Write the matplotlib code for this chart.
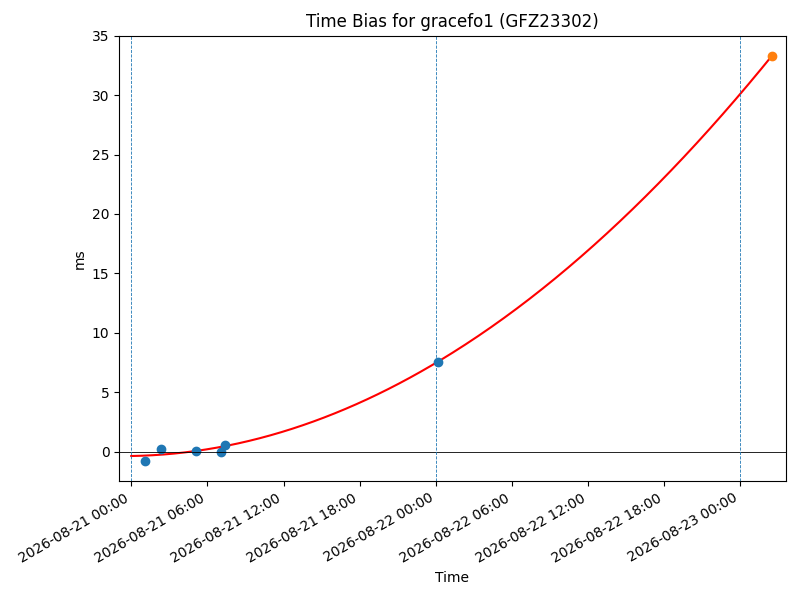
import matplotlib
matplotlib.use("Agg")
import matplotlib.pyplot as plt
import matplotlib.dates as mdates
import numpy as np
from datetime import datetime, timedelta

start = datetime(2026, 8, 21, 0, 0)

# observed bias points (hours after start, ms)
obs_hours = [1.05, 2.31, 5.09, 7.06, 7.38, 24.16]
obs_ms = [-0.78, 0.20, 0.08, 0.00, 0.54, 7.57]

# predicted end point
pred_hours = [50.48]
pred_ms = [33.29]

# fitted curve
curve_hours = [0, 6, 12, 18, 24, 30, 36, 42, 48, 50.48]
curve_ms = [-0.36, 0.21, 1.70, 4.12, 7.47, 11.74, 16.94, 23.06, 30.11, 33.29]

# day boundaries
day_lines = [datetime(2026, 8, 21), datetime(2026, 8, 22), datetime(2026, 8, 23)]

title = "Time Bias for gracefo1 (GFZ23302)"

def to_dt(hs):
    return [start + timedelta(hours=h) for h in hs]

fig, ax = plt.subplots(figsize=(8, 6), dpi=100)

coef = np.polyfit(curve_hours, curve_ms, 2)
hh = np.linspace(curve_hours[0], curve_hours[-1], 300)
ax.plot(to_dt(hh), np.polyval(coef, hh), color="red", lw=1.5)

ax.plot(to_dt(obs_hours), obs_ms, "o", color="C0", ms=6)
ax.plot(to_dt(pred_hours), pred_ms, "o", color="C1", ms=6)

ax.axhline(0, color="black", lw=0.6)
for d in day_lines:
    ax.axvline(d, color="C0", ls="--", lw=0.6)

ax.set_xlim(start + timedelta(hours=-0.95), start + timedelta(hours=51.57))
ax.set_ylim(-2.48, 35.0)
ax.xaxis.set_major_locator(mdates.HourLocator(byhour=[0, 6, 12, 18]))
ax.xaxis.set_major_formatter(mdates.DateFormatter("%Y-%m-%d %H:%M"))
fig.autofmt_xdate()

ax.set_title(title)
ax.set_xlabel("Time")
ax.set_ylabel("ms")

fig.subplots_adjust(left=0.149, right=0.982, top=0.9405, bottom=0.198)
fig.savefig("out.png", dpi=100)
